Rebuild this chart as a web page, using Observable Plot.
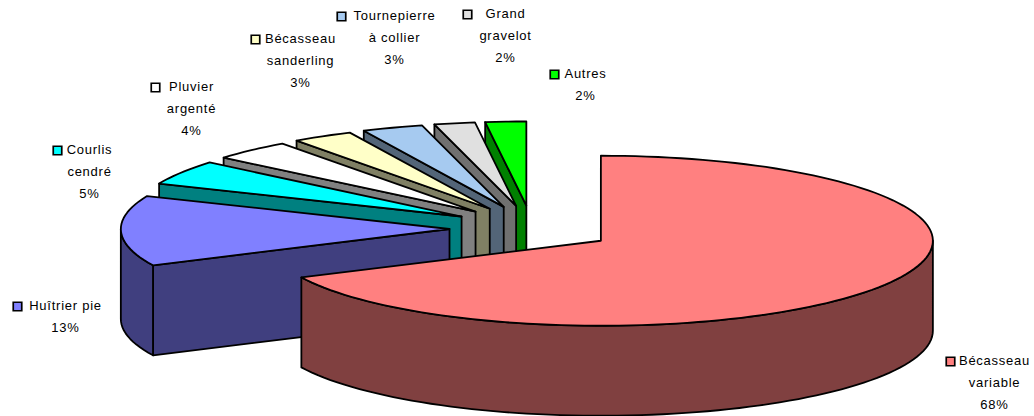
<!DOCTYPE html>
<html><head><meta charset="utf-8">
<script src="https://cdn.jsdelivr.net/npm/d3@7"></script>
<script src="https://cdn.jsdelivr.net/npm/@observablehq/plot@0.6"></script>
<style>html,body{margin:0;padding:0;background:#fff}svg{display:block}</style>
</head><body><div id="chart"></div>
<script>
const species = ["Bécasseau variable","Huîtrier pie","Courlis cendré","Pluvier argenté","Bécasseau sanderling","Tournepierre à collier","Grand gravelot","Autres"];
const shares = [67.9,13.5,4.7,3.9,3.0,3.0,2.0,2.0];
const shown = ["68%","13%","5%","4%","3%","3%","2%","2%"];
const faces = ["#FF8080","#8080FF","#00FFFF","#FFFFFF","#FFFFC8","#A6CAF0","#E0E0E0","#00FF00"];
const walls = ["#804040","#403F7F","#008080","#808080","#808064","#536578","#707070","#008000"];
const labelLines = [
  ["Bécasseau","variable","68%"],["Huîtrier pie","13%"],["Courlis","cendré","5%"],["Pluvier","argenté","4%"],
  ["Bécasseau","sanderling","3%"],["Tournepierre","à collier","3%"],["Grand","gravelot","2%"],["Autres","2%"]];
// label layout: centre x of the text block, y of the first line, swatch x
const labelPos = [[994,360,950],[65,305,17],[89,149,57],[191,86,155],[300,38,255],[394,15,341],[505,13,467],[585,73,554]];

// pie geometry
const rx = 332, ry = 85, minorScale = 0.99, depth = 90, cx = 531, cy = 228, explodeX = 0.247, explodeY = 0.27;
const rad = d => d * Math.PI / 180;
let run = 0;
const slices = shares.map((v,i) => {
  const a0 = run / 100 * 360; run += v; const a1 = run / 100 * 360;
  const mid = rad((a0 + a1) / 2);
  const ax = cx + explodeX * rx * Math.sin(mid), ay = cy - explodeY * ry * Math.cos(mid);
  const k = i === 0 ? 1 : minorScale;
  const pt = a => [ax + k * rx * Math.sin(rad(a)), ay - k * ry * Math.cos(rad(a))];
  return {i, a0, a1, ax, ay, pt};
});
const arc = (s, from, to) => { const n = Math.max(2, Math.ceil((to - from) / 2)); return d3.range(n + 1).map(k => s.pt(from + (to - from) * k / n)); };
const drop = p => [p[0], p[1] + depth];

const marks = [];
const poly = (pts, fill) => marks.push(Plot.line(pts, {x: d => d[0], y: d => d[1], curve: "linear-closed", fill, stroke: "#000", strokeWidth: 1.8, strokeLinejoin: "round"}));
// painter's order, back to front
for (const s of [...slices].reverse()) {
  const A = [s.ax, s.ay];
  const p0 = s.pt(s.a0);
  // wall on the start edge (only seen when the edge faces the viewer)
  if (s.i > 0) poly([p0, A, drop(A), drop(p0)], walls[s.i]);
  // rim wall on the front half
  const f0 = Math.max(s.a0, 90), f1 = Math.min(s.a1, 270);
  if (f1 > f0) { const r = arc(s, f0, f1); poly([...r, ...r.slice().reverse().map(drop)], walls[s.i]); }
  poly([A, ...arc(s, s.a0, s.a1)], faces[s.i]);
}
// data labels with their swatches
const lines = labelLines.flatMap((ls,i) => ls.map((t,k) => ({t, x: labelPos[i][0], y: labelPos[i][1] + k * 22})));
marks.push(Plot.text(lines, {x:"x", y:"y", text:"t", fontSize:13, fontFamily:"Liberation Sans, Arial, sans-serif", fill:"#000", textAnchor:"middle"}));
marks.push(Plot.dot(labelPos.map((p,i)=>({x:p[2], y:p[1]+1, i})), {x:"x", y:"y", symbol:"square", r:4.8, fill:d=>faces[d.i], stroke:"#000", strokeWidth:1.7}));

const chart = Plot.plot({width:1034, height:416, margin:0,
  style:{letterSpacing:"0.75px", background:"#fff"},
  x:{domain:[0,1034], range:[0,1034], axis:null}, y:{domain:[0,416], range:[0,416], axis:null},
  color:{type:"identity"}, marks});
document.getElementById("chart").append(chart);
</script></body></html>
